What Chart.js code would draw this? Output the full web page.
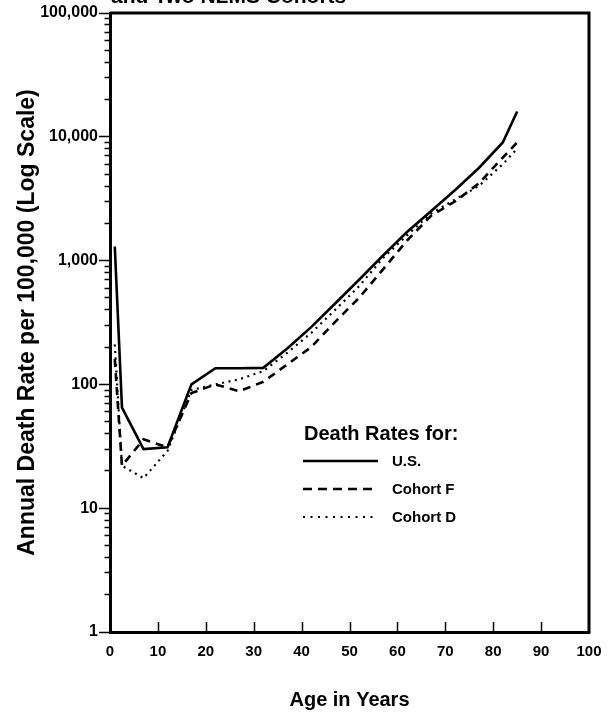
<!DOCTYPE html>
<html>
<head>
<meta charset="utf-8">
<script src="https://cdn.jsdelivr.net/npm/chart.js@4/dist/chart.umd.min.js"></script>
<style>
  html, body { margin: 0; padding: 0; background: #fff; }
  #wrap { width: 615px; height: 713px; }
</style>
</head>
<body>
<div id="wrap"><canvas id="graph" width="615" height="713"></canvas></div>
<script>
// ages (midpoints of the age groups)
let ages = [1, 2.5, 7, 12, 17, 22, 27, 32, 37, 42, 47, 52, 57, 62, 67, 72, 77, 82, 85];

// annual death rate per 100,000
let usRates      = [1300, 65, 30, 31, 100, 135, 135, 136, 195, 290, 450, 700, 1100, 1700, 2500, 3700, 5600, 9000, 16000];
let cohortFRates = [160, 22, 36, 31, 85, 100, 88, 105, 145, 200, 320, 500, 850, 1450, 2300, 3000, 4200, 6800, 9000];
let cohortDRates = [210, 22, 17.5, 29, 90, 100, 110, 128, 180, 260, 400, 620, 1050, 1600, 2400, 3100, 4000, 6000, 8000];

let seriesNames = ["U.S.", "Cohort F", "Cohort D"];

// tick labels
let yDecades = [1, 10, 100, 1000, 10000, 100000];
let yMinorSteps = [2, 3, 4, 5, 6, 7, 8, 9];
let xTicks = [0, 10, 20, 30, 40, 50, 60, 70, 80, 90, 100];

let titleFragment = "and Two NLMS Cohorts";
let legendTitle = "Death Rates for:";

const FONT = "'Liberation Sans', Arial, Helvetica, sans-serif";

function toPoints(values){
    let pts = [];
    for(let i = 0; i < ages.length; i++){
        pts.push({x: ages[i], y: values[i]});
    }
    return pts;
}

function isDecade(v){
    let e = Math.log10(v);
    return Math.abs(e - Math.round(e)) < 1e-9;
}

// inward ticks on the x axis, box on top/right, legend, title remnant
const extras = {
    id: "extras",
    afterDraw(chart){
        const ctx = chart.ctx;
        const area = chart.chartArea;
        const xs = chart.scales.x;
        ctx.save();
        ctx.strokeStyle = "#000";
        ctx.lineCap = "butt";

        // x ticks pointing up into the plot
        ctx.lineWidth = 1.5;
        for(let t of xs.ticks){
            if(t.value <= xs.min || t.value >= xs.max) continue;
            let px = Math.round(xs.getPixelForValue(t.value)) + 0.5;
            ctx.beginPath();
            ctx.moveTo(px, area.bottom);
            ctx.lineTo(px, area.bottom - 10);
            ctx.stroke();
        }

        // top and right border
        ctx.lineWidth = 3;
        ctx.beginPath();
        ctx.moveTo(area.left, area.top);
        ctx.lineTo(area.right, area.top);
        ctx.lineTo(area.right, area.bottom + 1.5);
        ctx.stroke();

        // legend
        ctx.fillStyle = "#000";
        ctx.textBaseline = "middle";
        ctx.textAlign = "left";
        ctx.font = "bold 20px " + FONT;
        ctx.fillText(legendTitle, 304, 434);
        ctx.font = "bold 15px " + FONT;
        let rowY = [461, 489, 517];
        chart.data.datasets.forEach((ds, i) => {
            ctx.lineWidth = ds.borderWidth;
            ctx.setLineDash(ds.legendDash || []);
            ctx.beginPath();
            ctx.moveTo(303, rowY[i]);
            ctx.lineTo(378, rowY[i]);
            ctx.stroke();
            ctx.setLineDash([]);
            ctx.fillText(ds.label, 392, rowY[i] + 1);
        });

        // bottom of the cut-off title
        ctx.font = "bold 21px " + FONT;
        ctx.textBaseline = "alphabetic";
        ctx.fillText(titleFragment, 111, 3);
        ctx.restore();
    }
};

const data = {
    datasets: [
        {
            label: seriesNames[0],
            data: toPoints(usRates),
            borderColor: "#000",
            borderWidth: 2.6,
            legendDash: []
        },
        {
            label: seriesNames[1],
            data: toPoints(cohortFRates),
            borderColor: "#000",
            borderWidth: 2.6,
            borderDash: [8, 6],
            legendDash: [9, 6]
        },
        {
            label: seriesNames[2],
            data: toPoints(cohortDRates),
            borderColor: "#000",
            borderWidth: 2.2,
            borderDash: [2, 4.5],
            legendDash: [2, 5.5]
        }
    ]
};

const config = {
    type: "line",
    data: data,
    plugins: [extras],
    options: {
        responsive: false,
        animation: false,
        layout: {padding: {left: 0, right: 26, top: 13, bottom: 0}},
        elements: {
            point: {radius: 0},
            line: {tension: 0, fill: false, borderCapStyle: "butt"}
        },
        plugins: {
            legend: {display: false},
            tooltip: {enabled: false}
        },
        scales: {
            x: {
                type: "linear",
                min: 0,
                max: 100,
                afterBuildTicks: (scale) => {
                    scale.ticks = xTicks.map(v => ({value: v}));
                },
                afterFit: (scale) => { scale.height = 81; },
                border: {display: true, color: "#000", width: 3},
                grid: {display: true, drawOnChartArea: false, drawTicks: false},
                ticks: {
                    color: "#000",
                    font: {family: FONT, size: 15, weight: "bold"},
                    padding: 11,
                    maxRotation: 0,
                    autoSkip: false
                },
                title: {
                    display: true,
                    text: "Age in Years",
                    color: "#000",
                    font: {family: FONT, size: 20, weight: "bold"},
                    padding: {top: 0, bottom: 1}
                }
            },
            y: {
                type: "logarithmic",
                min: 1,
                max: 100000,
                afterBuildTicks: (scale) => {
                    let t = [];
                    for(let d of yDecades){
                        t.push({value: d, major: true});
                        if(d < 100000){
                            for(let s of yMinorSteps) t.push({value: d * s});
                        }
                    }
                    scale.ticks = t;
                },
                afterFit: (scale) => { scale.width = 110; },
                border: {display: true, color: "#000", width: 3},
                grid: {
                    display: true,
                    drawOnChartArea: false,
                    drawTicks: true,
                    tickLength: 11,
                    tickWidth: 1.5,
                    tickColor: "#000",
                    tickBorderDash: (c) => (c.tick && isDecade(c.tick.value)) ? [] : [0, 5.5, 30]
                },
                ticks: {
                    color: "#000",
                    font: {family: FONT, size: 16, weight: "bold"},
                    padding: 1,
                    autoSkip: false,
                    callback: (value) => isDecade(value) ? Number(value).toLocaleString("en-US") : ""
                },
                title: {
                    display: true,
                    text: "Annual Death Rate per 100,000 (Log Scale)",
                    color: "#000",
                    font: {family: FONT, size: 23, weight: "bold"},
                    padding: {top: 14, bottom: 0}
                }
            }
        }
    }
};

let myChart = new Chart(document.getElementById("graph"), config);
</script>
</body>
</html>
